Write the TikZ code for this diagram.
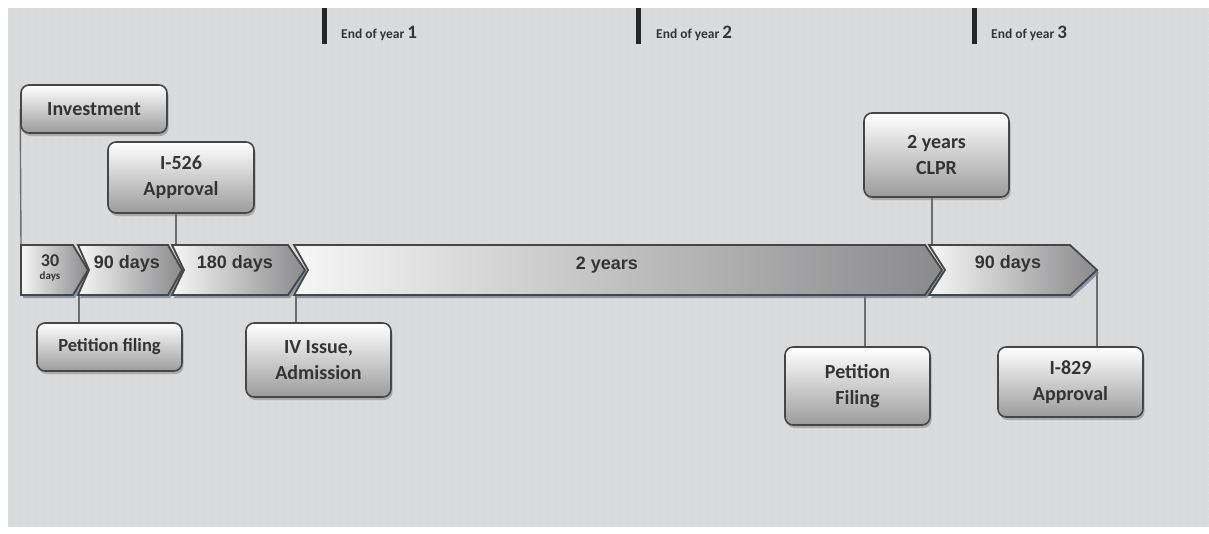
\documentclass[tikz,border=0pt]{standalone}
\usepackage{fontspec}
\setmainfont{Carlito}
\newfontfamily\bandfont{Liberation Sans}
\usetikzlibrary{patterns.meta,shadows}

\definecolor{paper}{RGB}{217,218,220}
\definecolor{inkdark}{RGB}{52,52,52}
\definecolor{edge}{RGB}{70,70,70}
\definecolor{wire}{RGB}{110,110,110}
\definecolor{chevlight}{RGB}{246,246,246}
\definecolor{chevdark}{RGB}{138,138,140}
\definecolor{chevshade}{RGB}{110,128,150}

\pgfdeclarelayer{back}
\pgfdeclarelayer{wires}
\pgfsetlayers{back,wires,main}

\tikzset{
  milestone/.style={draw=edge, line width=1.6pt, rounded corners=8pt,
    top color=white, bottom color=gray!78, text=inkdark,
    font=\bfseries\fontsize{20}{26}\selectfont, align=center,
    minimum width=146pt, inner sep=0pt,
    drop shadow={shadow xshift=1.5pt, shadow yshift=-3pt, fill=black!55, opacity=0.45}},
  chevpath/.style={draw=edge, line width=1.8pt, line join=miter,
    left color=chevlight, right color=chevdark},
  chevshadow/.style={fill=chevshade, opacity=0.75},
  bandlabel/.style={text=inkdark, font=\bandfont\bfseries\fontsize{18}{18}\selectfont},
  wireline/.style={draw=wire, line width=1.4pt},
  yearbar/.style={fill=black!85, draw=none},
  yearlabel/.style={anchor=base west, inner sep=0pt, text=inkdark,
    font=\bfseries\fontsize{13.5}{14}\selectfont},
}

% one arrow segment of the band: left x, right corner x, tip depth, notch depth
\newcommand\bandpiece[4]{%
  \fill[chevshadow, xshift=2pt, yshift=-3pt]
    (#1,245) -- (#2,245) -- ({#2+#3},270) -- (#2,295) -- (#1,295) -- ({#1+#4},270) -- cycle;
  \path[chevpath]
    (#1,245) -- (#2,245) -- ({#2+#3},270) -- (#2,295) -- (#1,295) -- ({#1+#4},270) -- cycle;
}

\begin{document}
\begin{tikzpicture}[x=1pt,y=-1pt]
\useasboundingbox (0,0) rectangle (1209,533);

\begin{pgfonlayer}{back}
  \fill[white] (0,0) rectangle (1209,533);
  \fill[paper] (8,8) rectangle (1209,527);
  \fill[pattern={Dots[distance=8pt, radius=0.55pt]}, pattern color=white, opacity=0.6]
    (8,8) rectangle (1209,527);
\end{pgfonlayer}

% year markers
\fill[yearbar] (322,8) rectangle (327,44);
\node[yearlabel] (y1) at (341,38) {End of year {\fontsize{19}{19}\selectfont 1}};
\fill[yearbar] (636,8) rectangle (641,44);
\node[yearlabel] (y2) at (656,38) {End of year {\fontsize{19}{19}\selectfont 2}};
\fill[yearbar] (972,8) rectangle (977,44);
\node[yearlabel] (y3) at (991,38) {End of year {\fontsize{19}{19}\selectfont 3}};

% the timeline band
\bandpiece{21}{73}{15}{0}
\bandpiece{78}{168}{14}{11}
\bandpiece{172}{288}{17}{12}
\bandpiece{294}{925}{17}{14}
\bandpiece{929}{1070}{27}{16}

\node[text=inkdark, font=\bfseries\fontsize{18}{18}\selectfont] (b1a) at (50,261) {30};
\node[text=inkdark, font=\bfseries\fontsize{11}{11}\selectfont] (b1b) at (50,277) {days};
\node[bandlabel] (b2) at (127,264) {90 days};
\node[bandlabel] (b3) at (235,264) {180 days};
\node[bandlabel] (b4) at (607,265) {2 years};
\node[bandlabel] (b5) at (1008,264) {90 days};

% milestones
\node[milestone, minimum height=48pt] (invest) at (94,109) {Investment};
\node[milestone, minimum height=71pt] (i526) at (181,177.5) {I-526\\Approval};
\node[milestone, minimum height=84pt, minimum width=145pt] (clpr) at (936.5,155) {2 years\\CLPR};
\node[milestone, minimum height=48pt, minimum width=145pt,
      font=\bfseries\fontsize{18.5}{24}\selectfont] (pfile) at (109.5,347) {Petition filing};
\node[milestone, minimum height=74pt, minimum width=145pt] (ivissue) at (318.5,360) {IV Issue,\\Admission};
\node[milestone, minimum height=78pt, minimum width=145pt] (pfile2) at (857.5,386) {Petition\\Filing};
\node[milestone, minimum height=70pt, minimum width=145pt] (i829) at (1070.5,382) {I-829\\Approval};

% points on the band where the milestones attach
\coordinate (tInvest) at (21,245);
\coordinate (tI526) at (176,245);
\coordinate (tClpr) at (932,245);
\coordinate (tPfile) at (79,295);
\coordinate (tIv) at (296,295);
\coordinate (tPfile2) at (865,295);
\coordinate (tI829) at (1097,270);

\begin{pgfonlayer}{wires}
  \draw[wireline] (invest.west) -- (tInvest);
  \draw[wireline] (tI526 |- i526.south) -- (tI526);
  \draw[wireline] (tClpr |- clpr.south) -- (tClpr);
  \draw[wireline] (tPfile) -- (tPfile |- pfile.north);
  \draw[wireline] (tIv) -- (tIv |- ivissue.north);
  \draw[wireline] (tPfile2) -- (tPfile2 |- pfile2.north);
  \draw[wireline] (tI829) -- (tI829 |- i829.north);
\end{pgfonlayer}
\end{tikzpicture}
\end{document}
